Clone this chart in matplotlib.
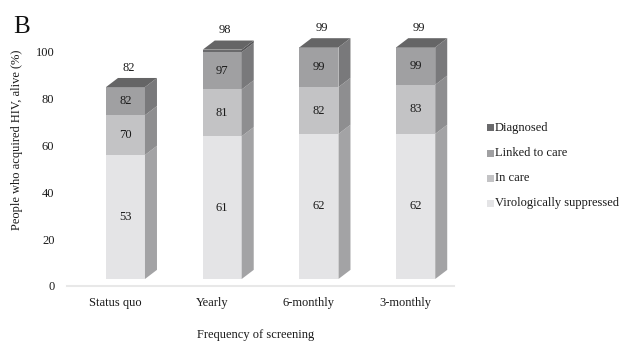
import numpy as np
import matplotlib.pyplot as plt
from matplotlib.patches import Polygon, Rectangle

plt.rcParams['font.family'] = ['Liberation Serif', 'DejaVu Serif']

# cumulative cascade values (%) by screening frequency
categories = ['Status quo', 'Yearly', '6-monthly', '3-monthly']
diagnosed = [82, 98, 99, 99]
linked = [82, 97, 99, 99]
in_care = [70, 81, 82, 83]
suppressed = [53, 61, 62, 62]

series_names = ['Virologically suppressed', 'In care', 'Linked to care', 'Diagnosed']
front_colors = ['#e4e4e6', '#c3c3c5', '#a0a0a2', '#6a6a6c']
side_colors = ['#a3a3a5', '#8e8e90', '#79797b', '#555557']
top_color = '#656566'
fs = 9

fig = plt.figure(figsize=(6.21, 3.42), dpi=100)
ax = fig.add_axes([67 / 621, 56 / 342, 387 / 621, 110 * 2.34 / 342])
ax.set_xlim(-0.5, len(categories) - 0.5)
ax.set_ylim(0, 110)
for s in ax.spines.values():
    s.set_visible(False)
ax.set_yticks(range(0, 101, 20))
ax.set_xticks(range(len(categories)))
ax.set_xticklabels(categories)
ax.tick_params(length=0, labelsize=fs, colors='#1a1a1a')
ax.tick_params(axis='y', pad=9)
ax.tick_params(axis='x', pad=8)
ax.axhline(0, color='#e8e8e8', lw=1.5, clip_on=False)

# pseudo-3D geometry (front face width, depth offset, lift of the front face)
w = 0.403
dx = 0.124
dy = 3.9
lift = 3

for i in range(len(categories)):
    levels = [0, suppressed[i], in_care[i], linked[i], diagnosed[i]]
    x0 = i - 0.097
    for j in range(4):
        b = lift + levels[j]
        t = lift + levels[j + 1]
        if t <= b:
            continue
        ax.add_patch(Rectangle((x0, b), w, t - b, facecolor=front_colors[j], edgecolor='none'))
        ax.add_patch(Polygon([(x0 + w, b), (x0 + w + dx, b + dy), (x0 + w + dx, t + dy), (x0 + w, t)],
                             closed=True, facecolor=side_colors[j], edgecolor='none'))
        if j < 3:
            ax.text(x0 + w / 2, (b + t) / 2, str(levels[j + 1]), ha='center', va='center',
                    fontsize=fs, color='#1a1a1a')
    T = lift + levels[-1]
    ax.add_patch(Polygon([(x0, T), (x0 + w, T), (x0 + w + dx, T + dy), (x0 + dx, T + dy)],
                         closed=True, facecolor=top_color, edgecolor='none'))
    ax.text(x0 + w / 2 + 0.03, T + dy + 4.3, str(diagnosed[i]), ha='center', va='center',
            fontsize=fs, color='#1a1a1a')

# legend, top entry first
for k, j in enumerate([3, 2, 1, 0]):
    yc = 1 - (128 + 25 * k) / 342
    fig.add_artist(Rectangle((487 / 621, yc - 3.5 / 342), 7 / 621, 7 / 342,
                             facecolor=front_colors[j], edgecolor='none', transform=fig.transFigure))
    fig.text(495 / 621, yc, series_names[j], ha='left', va='center', fontsize=fs, color='#1a1a1a')

fig.text(17 / 621, 1 - 140 / 342, 'People who acquired HIV, alive (%)', rotation=90,
         ha='center', va='center', fontsize=fs, color='#1a1a1a')
fig.text(256 / 621, 1 - 335 / 342, 'Frequency of screening', ha='center', va='center',
         fontsize=fs, color='#1a1a1a')
fig.text(13 / 621, 1 - 33 / 342, 'B', ha='left', va='baseline', fontsize=18, color='#111111')

fig.savefig('out.png', dpi=100)
